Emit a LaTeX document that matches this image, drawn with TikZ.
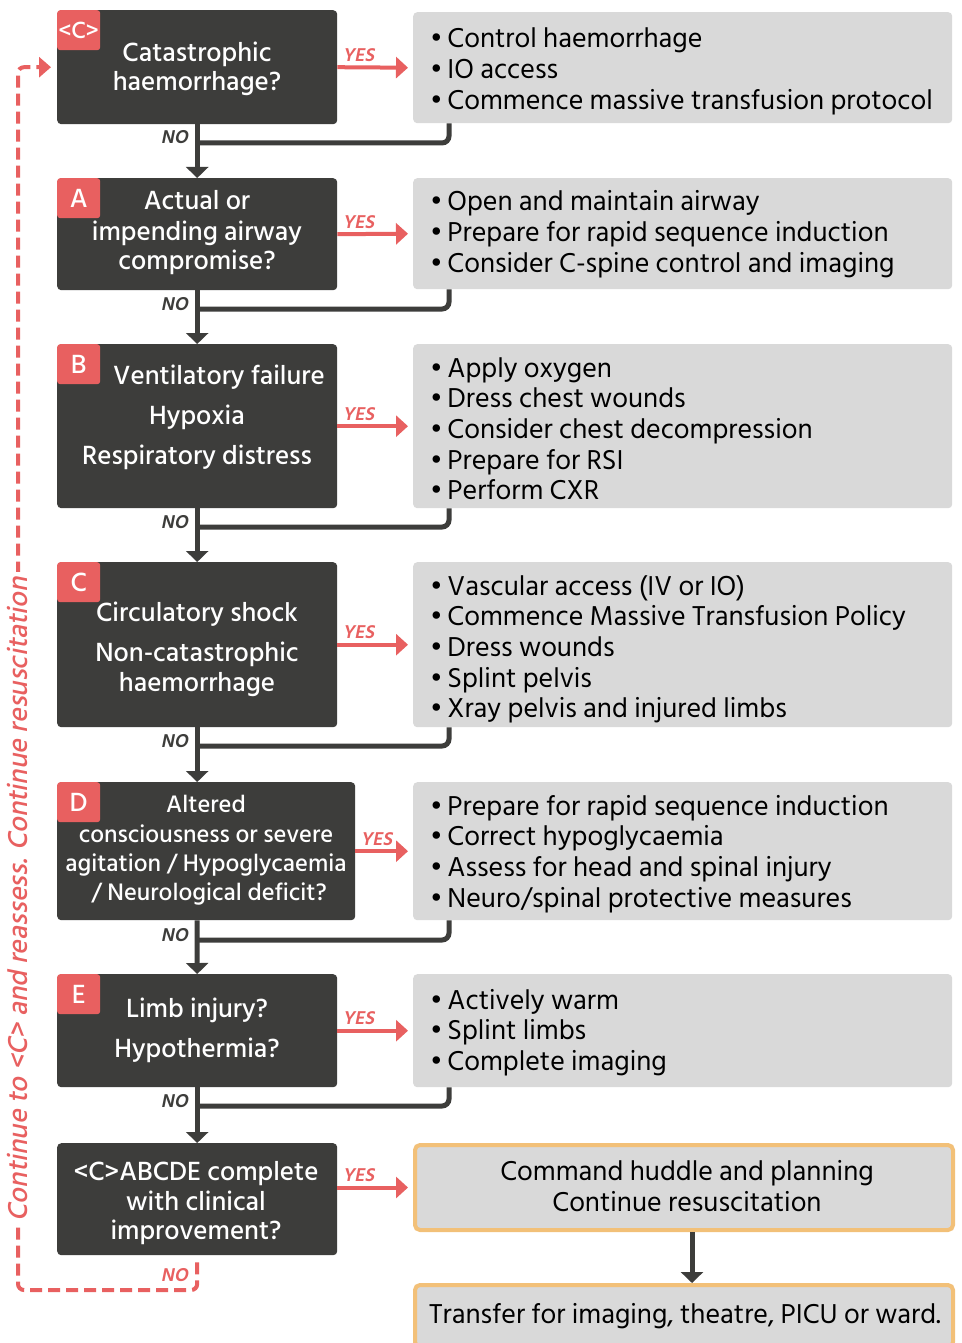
\documentclass[tikz,border=0pt]{standalone}
\usepackage{fontspec}
\setmainfont{Hind Siliguri}
\newfontfamily\slfont[FakeSlant=0.2]{Hind Siliguri}
\newfontfamily\medfont{Hind Siliguri Medium}
\newfontfamily\medslfont[FakeSlant=0.2]{Hind Siliguri Medium}
\usetikzlibrary{arrows.meta}
\definecolor{dk}{HTML}{3D3D3B}
\definecolor{rd}{HTML}{E86060}
\definecolor{lg}{HTML}{D9D9D9}
\definecolor{org}{HTML}{F2C078}
\begin{document}
\begin{tikzpicture}[x=1pt,y=-1pt,
 qbox/.style={fill=dk, rounded corners=4pt, anchor=north west, inner sep=0pt},
 abox/.style={fill=lg, rounded corners=4pt, anchor=north west, inner sep=0pt},
 obox/.style={fill=lg, draw=org, line width=4pt, rounded corners=5pt, anchor=north west, inner sep=0pt},
 badge/.style={fill=rd, rounded corners=3pt, anchor=north west, minimum width=43pt, minimum height=40pt, inner sep=0pt, text=white, font=\medfont\fontsize{27}{30}\selectfont},
 qt/.style={text=white, font=\medfont\fontsize{27}{30}\selectfont, anchor=base, inner sep=0pt},
 qts/.style={text=white, font=\medfont\fontsize{24.5}{28}\selectfont, anchor=base, inner sep=0pt},
 anstext/.style={text=black, font=\fontsize{28}{30}\selectfont, anchor=base west, inner sep=0pt},
 ctext/.style={text=black, font=\fontsize{28}{30}\selectfont, anchor=base, inner sep=0pt},
 yes/.style={draw=rd, line width=4pt, -{Triangle[length=12pt,width=21pt]}},
 yeslab/.style={text=rd, font=\slfont\bfseries\fontsize{19}{20}\selectfont, anchor=base west, inner sep=0pt},
 nolab/.style={text=dk, font=\slfont\bfseries\fontsize{19}{20}\selectfont, anchor=base east, inner sep=0pt},
 noarr/.style={draw=dk, line width=5pt, -{Triangle[length=11pt,width=22pt]}},
 merge/.style={draw=dk, line width=5pt, rounded corners=7pt},
 loopline/.style={draw=rd, line width=4pt, dash pattern=on 12pt off 6pt, rounded corners=6pt, -{Triangle[length=12pt,width=20pt]}}
]
\useasboundingbox (0,0) rectangle (961,1343);
\fill[white] (0,0) rectangle (961,1343);

% question boxes
\node[qbox, minimum width=280pt, minimum height=114pt] (q0) at (57,10) {};
\node[qbox, minimum width=280pt, minimum height=112pt] (q1) at (57,178) {};
\node[qbox, minimum width=280pt, minimum height=164pt] (q2) at (57,344) {};
\node[qbox, minimum width=280pt, minimum height=165pt] (q3) at (57,562) {};
\node[qbox, minimum width=298pt, minimum height=138pt] (q4) at (57,782) {};
\node[qbox, minimum width=280pt, minimum height=113pt] (q5) at (57,974) {};
\node[qbox, minimum width=280pt, minimum height=112pt] (q6) at (57,1143) {};

% badges
\node[badge] (b0) at (57,10) {};
\node[text=white, font=\medfont\fontsize{24}{28}\selectfont, inner sep=0pt] (b0t) at (b0.center) {<C>};
\node[badge] (b1) at (57,178) {A};
\node[badge] (b2) at (57,344) {B};
\node[badge] (b3) at (57,562) {C};
\node[badge] (b4) at (57,782) {D};
\node[badge] (b5) at (57,974) {E};

% question texts
\node[qt] (t00) at (197,62) {Catastrophic};
\node[qt] (t01) at (197,91) {haemorrhage?};
\node[qt] (t10) at (197,210) {Actual or};
\node[qt] (t11) at (197,240) {impending airway};
\node[qt] (t12) at (197,269) {compromise?};
\node[qt] (t20) at (219,384) {Ventilatory failure};
\node[qt] (t21) at (197,424) {Hypoxia};
\node[qt] (t22) at (197,464) {Respiratory distress};
\node[qt] (t30) at (197,621) {Circulatory shock};
\node[qt] (t31) at (197,661) {Non-catastrophic};
\node[qt] (t32) at (197,691) {haemorrhage};
\node[qts] (t40) at (206,812) {Altered};
\node[qts] (t41) at (206,842) {consciousness or severe};
\node[qts] (t42) at (206,871) {agitation / Hypoglycaemia};
\node[qts] (t43) at (209,900) {/ Neurological deficit?};
\node[qt] (t50) at (197,1017) {Limb injury?};
\node[qt] (t51) at (197,1057) {Hypothermia?};
\node[qt] (t60) at (196,1180) {<C>ABCDE complete};
\node[qt] (t61) at (196,1210) {with clinical};
\node[qt] (t62) at (196,1239) {improvement?};

% answer boxes
\node[abox, minimum width=539pt, minimum height=111pt] (a0) at (413,12) {};
\node[abox, minimum width=539pt, minimum height=111pt] (a1) at (413,178) {};
\node[abox, minimum width=539pt, minimum height=164pt] (a2) at (413,344) {};
\node[abox, minimum width=539pt, minimum height=165pt] (a3) at (413,562) {};
\node[abox, minimum width=539pt, minimum height=138pt] (a4) at (413,782) {};
\node[abox, minimum width=539pt, minimum height=113pt] (a5) at (413,974) {};
\node[obox, minimum width=538pt, minimum height=85pt] (cmd) at (413,1143) {};
\node[obox, minimum width=538pt, minimum height=62pt] (tr) at (413,1283) {};

% answer texts
\foreach \t [count=\i from 0] in {Control haemorrhage, IO access, Commence massive transfusion protocol}
  \node[anstext] (u0\i) at (430,48+30.7*\i) {•\,\t};
\foreach \t [count=\i from 0] in {Open and maintain airway, Prepare for rapid sequence induction, Consider C-spine control and imaging}
  \node[anstext] (u1\i) at (430,211+30.7*\i) {•\,\t};
\foreach \t [count=\i from 0] in {Apply oxygen, Dress chest wounds, Consider chest decompression, Prepare for RSI, Perform CXR}
  \node[anstext] (u2\i) at (430,377+30.7*\i) {•\,\t};
\foreach \t [count=\i from 0] in {Vascular access (IV or IO), Commence Massive Transfusion Policy, Dress wounds, Splint pelvis, Xray pelvis and injured limbs}
  \node[anstext] (u3\i) at (430,595+30.7*\i) {•\,\t};
\foreach \t [count=\i from 0] in {Prepare for rapid sequence induction, Correct hypoglycaemia, Assess for head and spinal injury, Neuro/spinal protective measures}
  \node[anstext] (u4\i) at (430,815+30.7*\i) {•\,\t};
\foreach \t [count=\i from 0] in {Actively warm, Splint limbs, Complete imaging}
  \node[anstext] (u5\i) at (430,1009+30.7*\i) {•\,\t};
\node[ctext] (c0) at (687,1180) {Command huddle and planning};
\node[ctext] (c1) at (687,1211) {Continue resuscitation};
\node[ctext] (c2) at (685,1323) {Transfer for imaging, theatre, PICU or ward.};

% YES arrows
\draw[yes] (q0.east) -- ([xshift=-5pt]a0.west);
\draw[yes] (q1.east) -- ([xshift=-5pt]a1.west);
\draw[yes] (q2.east) -- ([xshift=-5pt]a2.west);
\draw[yes] (q3.east) -- ([xshift=-5pt]a3.west);
\draw[yes] (q4.east) -- ([xshift=-5pt]a4.west);
\draw[yes] (q5.east) -- ([xshift=-5pt]a5.west);
\draw[yes] (q6.east |- cmd.west) -- ([xshift=-5pt]cmd.west);
\foreach \q in {0,1,2,3,5}
  \node[yeslab] (y\q) at ([xshift=5pt,yshift=6pt]q\q.east) {YES};
\node[yeslab] (y4) at ([xshift=5pt,yshift=6pt]q4.east) {YES};
\node[yeslab] (y6) at ([xshift=5pt,yshift=6pt]q6.east |- cmd.west) {YES};

% NO arrows
\draw[noarr] (q0.south) -- (q1.north);
\draw[noarr] (q1.south) -- (q2.north);
\draw[noarr] (q2.south) -- (q3.north);
\draw[noarr] (q3.south) -- (q4.north -| q3.south);
\draw[noarr] ([xshift=140pt]q4.south west) -- (q5.north);
\draw[noarr] (q5.south) -- (q6.north);
\draw[noarr] ([xshift=279pt]cmd.south west) -- ([xshift=279pt]tr.north west);

% merge lines
\coordinate (m0) at (197,143);
\coordinate (m1) at (197,309);
\coordinate (m2) at (197,527);
\coordinate (m3) at (197,746);
\coordinate (m4) at (197,940);
\coordinate (m5) at (197,1106);
\foreach \i in {0,...,5}{
  \draw[merge] ([xshift=36pt]a\i.south west) |- (m\i);
  \node[nolab] (n\i) at ([xshift=-9pt,yshift=-1pt]m\i) {NO};
}

% loop back
\coordinate (lpc) at (18,1290);
\draw[loopline] ([yshift=-7pt]q6.south) |- (lpc) |- ([xshift=-6pt]q0.west);
\node[nolab, text=rd] (n6) at (188,1281) {NO};
\node[rotate=90, fill=white, text=rd, font=\medslfont\fontsize{28}{30}\selectfont, inner sep=5pt] (cont) at (18,899) {Continue to <C> and reassess. Continue resuscitation};
\end{tikzpicture}
\end{document}
